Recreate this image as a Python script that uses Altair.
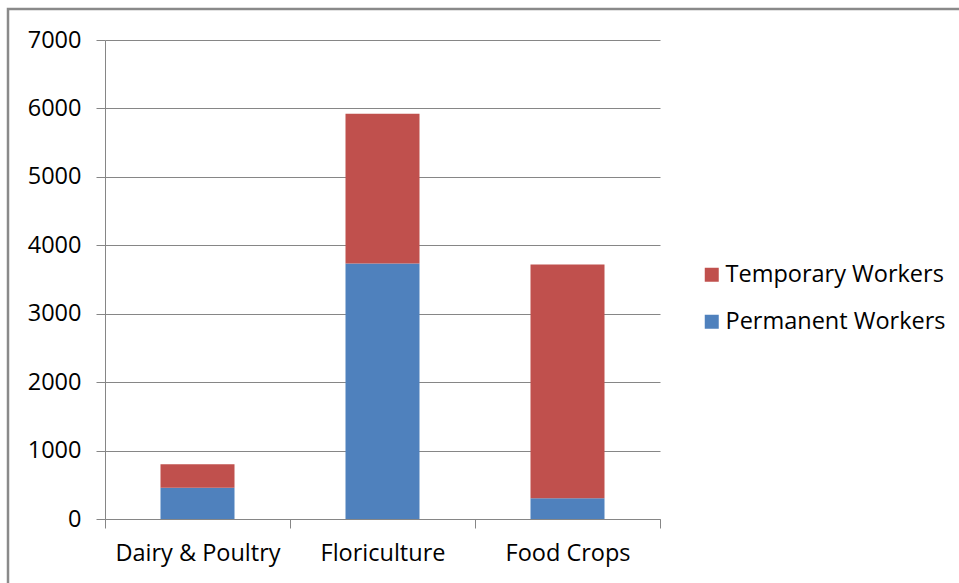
import altair as alt
import pandas as pd

categories = ["Dairy & Poultry", "Floriculture", "Food Crops"]
permanent = [457, 3733, 302]
temporary = [342, 2190, 3416]
series = ["Temporary Workers", "Permanent Workers"]
colors = ["#C0504D", "#4F81BD"]
y_ticks = [0, 1000, 2000, 3000, 4000, 5000, 6000, 7000]

rows = []
for c, p, t in zip(categories, permanent, temporary):
    rows.append({"category": c, "series": "Permanent Workers", "value": p, "stackorder": 0})
    rows.append({"category": c, "series": "Temporary Workers", "value": t, "stackorder": 1})
df = pd.DataFrame(rows)

FONT = "Open Sans"
FS = 23.5
GRID = "#868686"

bars = alt.Chart(df).mark_bar(width=alt.RelativeBandSize(0.4)).encode(
    x=alt.X(
        "category:N",
        sort=categories,
        scale=alt.Scale(paddingInner=0, paddingOuter=0),
        axis=alt.Axis(
            title=None, labelAngle=0, tickBand="extent", tickSize=9,
            tickColor=GRID, domainColor=GRID, labelFont=FONT, labelFontSize=FS,
            labelColor="#000000", labelPadding=13, grid=False, labelLimit=0,
        ),
    ),
    y=alt.Y(
        "value:Q",
        stack="zero",
        scale=alt.Scale(domain=[0, 7000], nice=False),
        axis=alt.Axis(
            values=y_ticks, format="d", title=None, tickSize=9, tickColor=GRID,
            domainColor=GRID, gridColor=GRID, gridOpacity=1, labelFont=FONT,
            labelFontSize=FS, labelColor="#000000", labelPadding=15,
        ),
    ),
    color=alt.Color(
        "series:N",
        scale=alt.Scale(domain=series, range=colors),
        legend=alt.Legend(
            title=None, orient="none", legendX=595, legendY=223,
            symbolType="square", symbolSize=196, symbolStrokeWidth=0,
            labelFont=FONT, labelFontSize=FS, labelColor="#000000",
            labelOffset=2, rowPadding=22, labelLimit=0,
        ),
    ),
    order=alt.Order("stackorder:Q", sort="ascending"),
)

frame = alt.Chart(pd.DataFrame({"a": [0]})).mark_rect(
    fill="transparent", stroke="#8a8a8a", strokeWidth=2.5, clip=False
).encode(
    x=alt.value(-97), x2=alt.value(900), y=alt.value(-31), y2=alt.value(600)
)

chart = alt.layer(frame, bars).properties(
    width=555, height=479,
    autosize=alt.AutoSizeParams(type="none"),
    padding={"left": 105, "top": 40, "right": 299, "bottom": 64},
    background="white",
).configure_view(stroke=None)

chart.save("out.html", embed_options={"renderer": "svg", "actions": False})
